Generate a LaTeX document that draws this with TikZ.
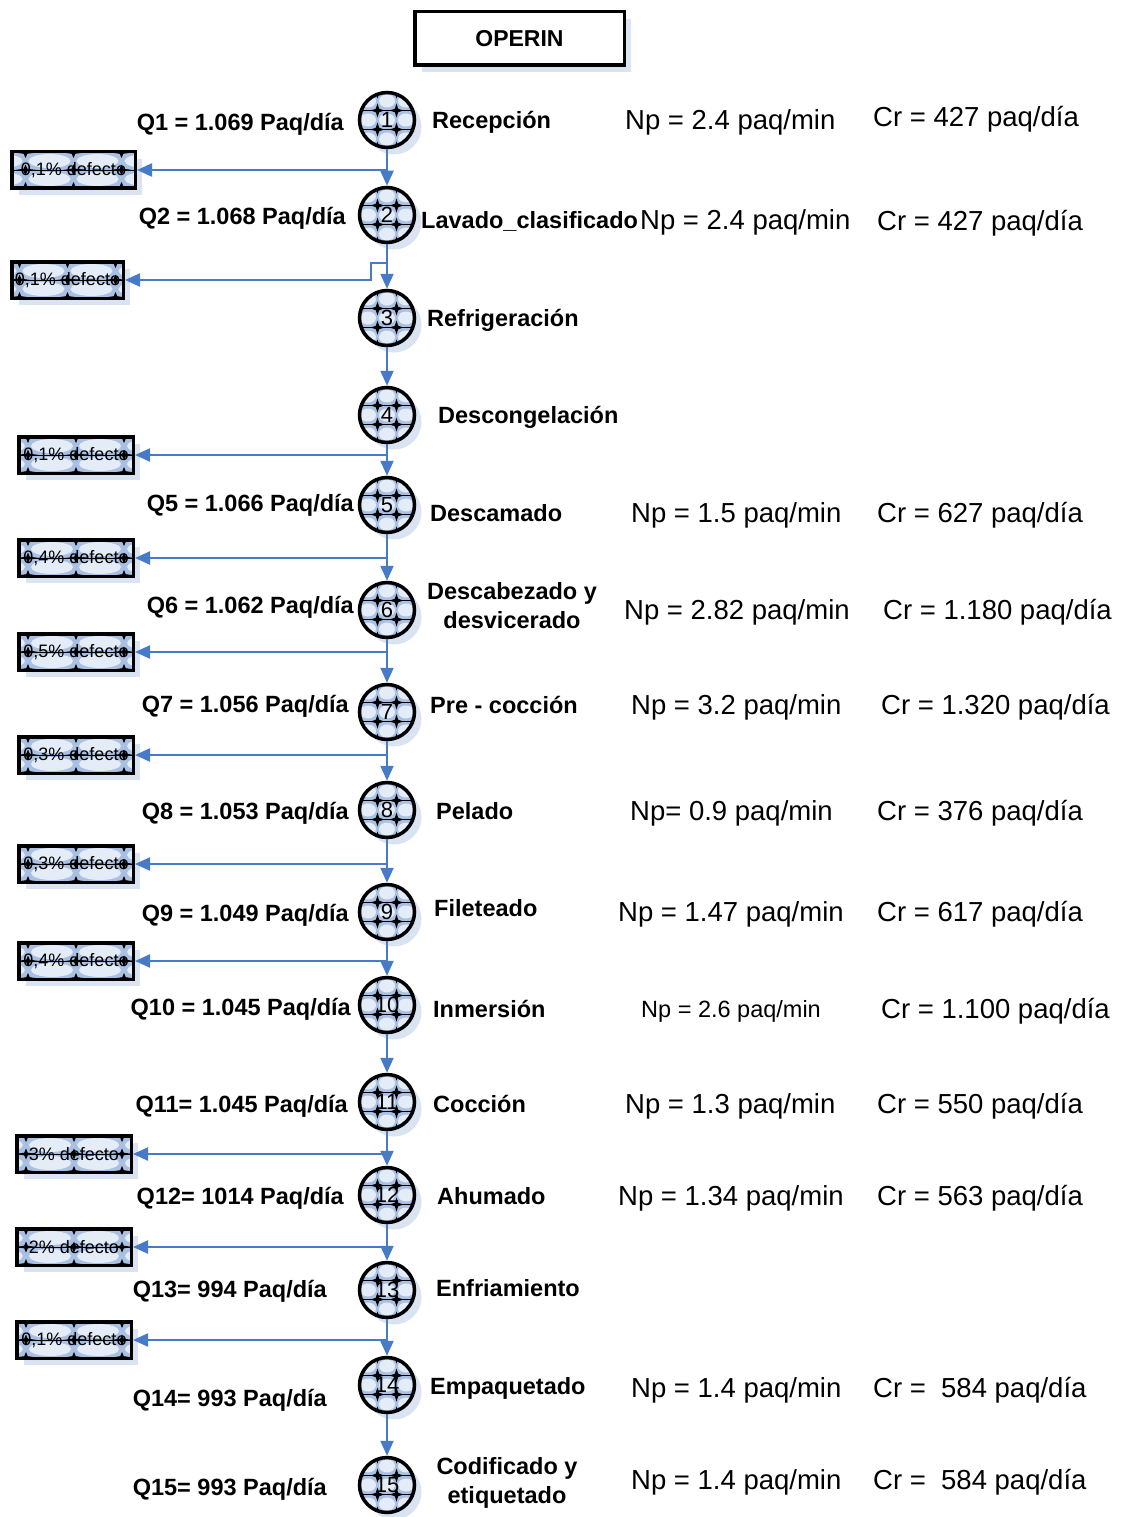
\documentclass[tikz,border=0pt]{standalone}
\usepackage{fontspec}
\setmainfont{Liberation Sans}
\usetikzlibrary{shadows,arrows.meta}
\definecolor{flowblue}{RGB}{71,122,199}
\definecolor{shadowblue}{RGB}{218,227,241}
\definecolor{patbase}{RGB}{170,192,226}
\definecolor{patlight}{RGB}{228,236,247}
\tikzset{
  shadowstyle/.style={drop shadow={shadow xshift=7pt,shadow yshift=-7pt,fill=shadowblue,opacity=1}},
  circpat/.style={path picture={
      \fill[patbase] (path picture bounding box.south west) rectangle (path picture bounding box.north east);
      \foreach \i in {-19,0,19} \foreach \j in {-19,0,19}
        \fill[patlight] ([shift={(\i,\j)}]path picture bounding box.center) ellipse (8 and 6.5);
      \foreach \j in {-9.5,9.5}
        \draw[black,line width=0.5pt] ([shift={(-40,\j)}]path picture bounding box.center) -- ([shift={(40,\j)}]path picture bounding box.center);
      \foreach \i/\j in {-9.5/-9.5,9.5/-9.5,-9.5/9.5,9.5/9.5,-9.5/-28.5,9.5/-28.5,-9.5/28.5,9.5/28.5,-28.5/-9.5,28.5/-9.5,-28.5/9.5,28.5/9.5}
        \fill[black] ([shift={(\i,\j)}]path picture bounding box.center) +(0,7) -- +(1.7,1.7) -- +(7,0) -- +(1.7,-1.7) -- +(0,-7) -- +(-1.7,-1.7) -- +(-7,0) -- +(-1.7,1.7) -- cycle;
    }},
  boxpat/.style={path picture={
      \fill[patbase] (path picture bounding box.south west) rectangle (path picture bounding box.north east);
      \foreach \i in {-72,-24,24,72} \foreach \j in {-9,9}
        \fill[patlight] ([shift={(\i,\j)}]path picture bounding box.center) ellipse (21 and 7);
      \foreach \j in {-17.5,0,17.5}
        \draw[black,line width=0.6pt] ([shift={(-80,\j)}]path picture bounding box.center) -- ([shift={(80,\j)}]path picture bounding box.center);
      \foreach \i in {-48,0,48} \foreach \j in {-17.5,0,17.5}
        \fill[black] ([shift={(\i,\j)}]path picture bounding box.center) +(0,5.5) -- +(1.8,1.3) -- +(11,0) -- +(1.8,-1.3) -- +(0,-5.5) -- +(-1.8,-1.3) -- +(-11,0) -- +(-1.8,1.3) -- cycle;
    }},
  opnode/.style={circle, draw=black, line width=3.5pt, minimum size=55pt, inner sep=0pt,
    font=\fontsize{22}{24}\selectfont, shadowstyle, circpat},
  defbox/.style={rectangle, draw=black, line width=3.5pt, minimum height=36.5pt, inner sep=0pt,
    font=\fontsize{18}{20}\selectfont, shadowstyle, boxpat},
  titlebox/.style={rectangle, draw=black, line width=3.5pt, minimum width=209.5pt, minimum height=53.5pt,
    fill=white, font=\bfseries\fontsize{23}{25}\selectfont, shadowstyle},
  flow/.style={draw=flowblue, line width=2.2pt, -{Triangle[length=15pt,width=13pt]}},
  qlab/.style={anchor=east, inner sep=0pt, text height=17pt, text depth=0pt, font=\bfseries\fontsize{23.5}{26}\selectfont},
  plab/.style={anchor=west, inner sep=0pt, text height=17pt, text depth=0pt, font=\bfseries\fontsize{23.5}{26}\selectfont},
  plabtwo/.style={anchor=center, inner sep=0pt, align=center, font=\bfseries\fontsize{23.5}{29}\selectfont},
  nlab/.style={anchor=west, inner sep=0pt, text height=19.7pt, text depth=0pt, font=\fontsize{27.5}{30}\selectfont},
  nlabsmall/.style={anchor=west, inner sep=0pt, text height=16.8pt, text depth=0pt, font=\fontsize{23.5}{26}\selectfont},
}
\begin{document}
\begin{tikzpicture}[x=1pt,y=-1pt]
\useasboundingbox (0,0) rectangle (1123,1517);
\fill[white] (0,0) rectangle (1123,1517);

% title
\node[titlebox] (title) at (519.5,38.5) {OPERIN};

% operation circles
\node[opnode] (c1) at (387,120) {1};
\node[opnode] (c2) at (387,215) {2};
\node[opnode] (c3) at (387,318) {3};
\node[opnode] (c4) at (387,415) {4};
\node[opnode] (c5) at (387,505) {5};
\node[opnode] (c6) at (387,610) {6};
\node[opnode] (c7) at (387,712) {7};
\node[opnode] (c8) at (387,810) {8};
\node[opnode] (c9) at (387,912) {9};
\node[opnode] (c10) at (387,1005) {10};
\node[opnode] (c11) at (387,1102) {11};
\node[opnode] (c12) at (387,1195) {12};
\node[opnode] (c13) at (387,1290) {13};
\node[opnode] (c14) at (387,1385) {14};
\node[opnode] (c15) at (387,1485) {15};

% defect boxes
\node[defbox, minimum width=123.5pt] (d1) at (73.5,170) {0,1\% defecto};
\node[defbox, minimum width=111.5pt] (d2) at (67.5,280) {0,1\% defecto};
\node[defbox, minimum width=114.5pt] (d3) at (76,455) {0,1\% defecto};
\node[defbox, minimum width=114.5pt] (d4) at (76,558) {0,4\% defecto};
\node[defbox, minimum width=114.5pt] (d5) at (76,652) {0,5\% defecto};
\node[defbox, minimum width=114.5pt] (d6) at (76,755) {0,3\% defecto};
\node[defbox, minimum width=114.5pt] (d7) at (76,864) {0,3\% defecto};
\node[defbox, minimum width=114.5pt] (d8) at (76,961) {0,4\% defecto};
\node[defbox, minimum width=114.5pt] (d9) at (74,1154) {3\% defecto};
\node[defbox, minimum width=114.5pt] (d10) at (74,1247) {2\% defecto};
\node[defbox, minimum width=114.5pt] (d11) at (74,1340) {0,1\% defecto};

% main flow
\draw[flow] (c1) -- (c2);
\draw[flow] (c2) -- (c3);
\draw[flow] (c3) -- (c4);
\draw[flow] (c4) -- (c5);
\draw[flow] (c5) -- (c6);
\draw[flow] (c6) -- (c7);
\draw[flow] (c7) -- (c8);
\draw[flow] (c8) -- (c9);
\draw[flow] (c9) -- (c10);
\draw[flow] (c10) -- (c11);
\draw[flow] (c11) -- (c12);
\draw[flow] (c12) -- (c13);
\draw[flow] (c13) -- (c14);
\draw[flow] (c14) -- (c15);

% branch points
\coordinate (b1) at (387,170);
\coordinate (b2) at (387,263);
\coordinate (j2) at (371,263);
\coordinate (b3) at (387,455);
\coordinate (b4) at (387,558);
\coordinate (b5) at (387,652);
\coordinate (b6) at (387,755);
\coordinate (b7) at (387,864);
\coordinate (b8) at (387,961);
\coordinate (b9) at (387,1154);
\coordinate (b10) at (387,1247);
\coordinate (b11) at (387,1340);

\draw[flow] (b1) -- (d1.east);
\draw[flow] (b2) -- (j2) |- (d2.east);
\draw[flow] (b3) -- (d3.east);
\draw[flow] (b4) -- (d4.east);
\draw[flow] (b5) -- (d5.east);
\draw[flow] (b6) -- (d6.east);
\draw[flow] (b7) -- (d7.east);
\draw[flow] (b8) -- (d8.east);
\draw[flow] (b9) -- (d9.east);
\draw[flow] (b10) -- (d10.east);
\draw[flow] (b11) -- (d11.east);

% Q labels
\node[qlab] (q1) at (344,122) {Q1 = 1.069 Paq/día};
\node[qlab] (q2) at (346,216) {Q2 = 1.068 Paq/día};
\node[qlab] (q5) at (354,503) {Q5 = 1.066 Paq/día};
\node[qlab] (q6) at (354,605) {Q6 = 1.062 Paq/día};
\node[qlab] (q7) at (349,704) {Q7 = 1.056 Paq/día};
\node[qlab] (q8) at (349,811) {Q8 = 1.053 Paq/día};
\node[qlab] (q9) at (349,913) {Q9 = 1.049 Paq/día};
\node[qlab] (q10) at (351,1007) {Q10 = 1.045 Paq/día};
\node[qlab] (q11) at (348,1104) {Q11= 1.045 Paq/día};
\node[qlab] (q12) at (344,1196) {Q12= 1014 Paq/día};
\node[qlab] (q13) at (327,1289) {Q13= 994 Paq/día};
\node[qlab] (q14) at (327,1398) {Q14= 993 Paq/día};
\node[qlab] (q15) at (327,1487) {Q15= 993 Paq/día};

% process labels
\node[plab] (p1) at (432,120) {Recepción};
\node[plab] (p2) at (421,220) {Lavado\_clasificado};
\node[plab] (p3) at (427,318) {Refrigeración};
\node[plab] (p4) at (438,415) {Descongelación};
\node[plab] (p5) at (430,513) {Descamado};
\node[plabtwo] (p6) at (512,606) {Descabezado y\\desvicerado};
\node[plab] (p7) at (430,705) {Pre - cocción};
\node[plab] (p8) at (436,811) {Pelado};
\node[plab] (p9) at (434,908) {Fileteado};
\node[plab] (p10) at (433,1009) {Inmersión};
\node[plab] (p11) at (433,1104) {Cocción};
\node[plab] (p12) at (437,1196) {Ahumado};
\node[plab] (p13) at (436,1288) {Enfriamiento};
\node[plab] (p14) at (430,1386) {Empaquetado};
\node[plabtwo] (p15) at (507,1483) {Codificado y\\etiquetado};

% Np labels
\node[nlab] (n1) at (625,120) {Np = 2.4 paq/min};
\node[nlab] (n2) at (640,220) {Np = 2.4 paq/min};
\node[nlab] (n5) at (631,513) {Np = 1.5 paq/min};
\node[nlab] (n6) at (624,610) {Np = 2.82 paq/min};
\node[nlab] (n7) at (631,705) {Np = 3.2 paq/min};
\node[nlab] (n8) at (630,811) {Np= 0.9 paq/min};
\node[nlab] (n9) at (618,912) {Np = 1.47 paq/min};
\node[nlabsmall] (n10) at (641,1009) {Np = 2.6 paq/min};
\node[nlab] (n11) at (625,1104) {Np = 1.3 paq/min};
\node[nlab] (n12) at (618,1196) {Np = 1.34 paq/min};
\node[nlab] (n14) at (631,1388) {Np = 1.4 paq/min};
\node[nlab] (n15) at (631,1480) {Np = 1.4 paq/min};

% Cr labels
\node[nlab] (r1) at (873,117) {Cr = 427 paq/día};
\node[nlab] (r2) at (877,221) {Cr = 427 paq/día};
\node[nlab] (r5) at (877,513) {Cr = 627 paq/día};
\node[nlab] (r6) at (883,610) {Cr = 1.180 paq/día};
\node[nlab] (r7) at (881,705) {Cr = 1.320 paq/día};
\node[nlab] (r8) at (877,811) {Cr = 376 paq/día};
\node[nlab] (r9) at (877,912) {Cr = 617 paq/día};
\node[nlab] (r10) at (881,1009) {Cr = 1.100 paq/día};
\node[nlab] (r11) at (877,1104) {Cr = 550 paq/día};
\node[nlab] (r12) at (877,1196) {Cr = 563 paq/día};
\node[nlab] (r14) at (873,1388) {Cr =\ \ 584 paq/día};
\node[nlab] (r15) at (873,1480) {Cr =\ \ 584 paq/día};
\end{tikzpicture}
\end{document}
